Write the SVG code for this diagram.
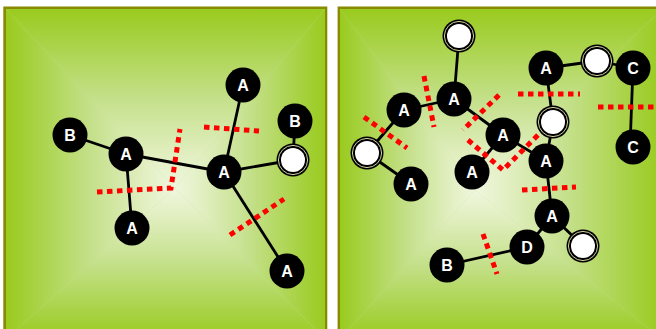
<svg xmlns="http://www.w3.org/2000/svg" width="656" height="329" viewBox="0 0 656 329">
<style>
.n circle.b{fill:#000}
.n text{fill:#fff;font-family:"Liberation Sans",Arial,sans-serif;font-weight:bold;font-size:16px;text-anchor:middle}
.w .o{fill:#000}
.w .r{fill:none;stroke:#e6e6b0;stroke-width:0.9}
.w .i{fill:#fff}
.e line{stroke:#000;stroke-width:2.8}
.cut{fill:none;stroke:#f00;stroke-width:5;stroke-dasharray:5.5 4.5}
</style>
<defs>
<linearGradient id="gT" gradientUnits="objectBoundingBox" x1="0" y1="0" x2="0" y2="1">
<stop offset="0" stop-color="#9acb1e"/><stop offset="0.12" stop-color="#a3d038"/><stop offset="0.5" stop-color="#c4e08a"/><stop offset="0.8" stop-color="#e0eebe"/><stop offset="1" stop-color="#eff7de"/>
</linearGradient>
<linearGradient id="gB" gradientUnits="objectBoundingBox" x1="0" y1="1" x2="0" y2="0">
<stop offset="0" stop-color="#9acb1e"/><stop offset="0.12" stop-color="#a3d038"/><stop offset="0.5" stop-color="#c4e08a"/><stop offset="0.8" stop-color="#e0eebe"/><stop offset="1" stop-color="#eff7de"/>
</linearGradient>
<linearGradient id="gL" gradientUnits="objectBoundingBox" x1="0" y1="0" x2="1" y2="0">
<stop offset="0" stop-color="#9acb1e"/><stop offset="0.12" stop-color="#a3d038"/><stop offset="0.5" stop-color="#c4e08a"/><stop offset="0.8" stop-color="#e0eebe"/><stop offset="1" stop-color="#eff7de"/>
</linearGradient>
<linearGradient id="gR" gradientUnits="objectBoundingBox" x1="1" y1="0" x2="0" y2="0">
<stop offset="0" stop-color="#9acb1e"/><stop offset="0.12" stop-color="#a3d038"/><stop offset="0.5" stop-color="#c4e08a"/><stop offset="0.8" stop-color="#e0eebe"/><stop offset="1" stop-color="#eff7de"/>
</linearGradient>
</defs>

<g id="panel-left">
<rect x="3.3" y="6.5" width="324" height="330" fill="#888a00"/>
<rect x="6" y="9" width="319" height="330" fill="#c4e08a"/>
<polygon points="6,9 325,9 175,188" fill="url(#gT)"/>
<polygon points="6,339 325,339 175,188" fill="url(#gB)"/>
<polygon points="6,9 6,339 175,188" fill="url(#gL)"/>
<polygon points="325,9 325,339 175,188" fill="url(#gR)"/>
</g>
<g id="panel-right">
<rect x="337.6" y="6.5" width="330" height="330" fill="#888a00"/>
<rect x="340" y="9" width="322" height="330" fill="#c4e08a"/>
<polygon points="340,9 662,9 475,190" fill="url(#gT)"/>
<polygon points="340,339 662,339 475,190" fill="url(#gB)"/>
<polygon points="340,9 340,339 475,190" fill="url(#gL)"/>
<polygon points="662,9 662,339 475,190" fill="url(#gR)"/>
</g>

<g id="connectors" class="e">
<line x1="70" y1="135" x2="126" y2="154"/>
<line x1="126" y1="154" x2="132" y2="228"/>
<line x1="126" y1="154" x2="224" y2="172"/>
<line x1="224" y1="172" x2="243" y2="85"/>
<line x1="224" y1="172" x2="293" y2="160"/>
<line x1="224" y1="172" x2="287" y2="271"/>
<line x1="295" y1="121" x2="293" y2="160"/>
<line x1="459" y1="36" x2="454" y2="99"/>
<line x1="454" y1="99" x2="404" y2="110"/>
<line x1="404" y1="110" x2="367" y2="153"/>
<line x1="367" y1="153" x2="411" y2="184"/>
<line x1="454" y1="99" x2="503" y2="135"/>
<line x1="503" y1="135" x2="472" y2="172"/>
<line x1="503" y1="135" x2="546" y2="161"/>
<line x1="546" y1="68" x2="597" y2="61"/>
<line x1="597" y1="61" x2="633" y2="68"/>
<line x1="633" y1="68" x2="630" y2="147"/>
<line x1="546" y1="68" x2="553" y2="122"/>
<line x1="553" y1="122" x2="546" y2="161"/>
<line x1="546" y1="161" x2="552" y2="216"/>
<line x1="552" y1="216" x2="583" y2="246"/>
<line x1="552" y1="216" x2="527" y2="247"/>
<line x1="527" y1="247" x2="447" y2="265"/>
</g>

<g id="cuts">
<polyline class="cut" points="97,192 171,188 180,129"/>
<line class="cut" x1="204" y1="127" x2="259" y2="131"/>
<line class="cut" x1="230" y1="235" x2="284" y2="199"/>
<line class="cut" x1="424" y1="76" x2="434" y2="127"/>
<line class="cut" x1="364" y1="117" x2="407" y2="148"/>
<line class="cut" x1="499" y1="95" x2="463" y2="130"/>
<polyline class="cut" points="468,140 503,170 539,134"/>
<line class="cut" x1="518" y1="94" x2="580" y2="94"/>
<line class="cut" x1="598" y1="107" x2="656" y2="107"/>
<line class="cut" x1="522" y1="190" x2="576" y2="187"/>
<line class="cut" x1="483" y1="234" x2="497" y2="274"/>
</g>

<g id="nL-B1" class="n"><circle class="b" cx="70" cy="135" r="17.5"/><text x="70" y="140.8">B</text></g>
<g id="nL-A1" class="n"><circle class="b" cx="126" cy="154" r="17.5"/><text x="126" y="159.8">A</text></g>
<g id="nL-A2" class="n"><circle class="b" cx="132" cy="228" r="17.5"/><text x="132" y="233.8">A</text></g>
<g id="nL-A3" class="n"><circle class="b" cx="224" cy="172" r="17.5"/><text x="224" y="177.8">A</text></g>
<g id="nL-A4" class="n"><circle class="b" cx="243" cy="85" r="17.5"/><text x="243" y="90.8">A</text></g>
<g id="nL-B2" class="n"><circle class="b" cx="295" cy="121" r="17.5"/><text x="295" y="126.8">B</text></g>
<g id="nL-W1" class="w"><circle class="o" cx="293" cy="160" r="16.5"/><circle class="r" cx="293" cy="160" r="14.6"/><circle class="i" cx="293" cy="160" r="12"/></g>
<g id="nL-A5" class="n"><circle class="b" cx="287" cy="271" r="17.5"/><text x="287" y="276.8">A</text></g>

<g id="nR-W1" class="w"><circle class="o" cx="459" cy="36" r="16.5"/><circle class="r" cx="459" cy="36" r="14.6"/><circle class="i" cx="459" cy="36" r="12"/></g>
<g id="nR-A1" class="n"><circle class="b" cx="454" cy="99" r="17.5"/><text x="454" y="104.8">A</text></g>
<g id="nR-A2" class="n"><circle class="b" cx="404" cy="110" r="17.5"/><text x="404" y="115.8">A</text></g>
<g id="nR-W2" class="w"><circle class="o" cx="367" cy="153" r="16.5"/><circle class="r" cx="367" cy="153" r="14.6"/><circle class="i" cx="367" cy="153" r="12"/></g>
<g id="nR-A3" class="n"><circle class="b" cx="411" cy="184" r="17.5"/><text x="411" y="189.8">A</text></g>
<g id="nR-A4" class="n"><circle class="b" cx="503" cy="135" r="17.5"/><text x="503" y="140.8">A</text></g>
<g id="nR-A5" class="n"><circle class="b" cx="472" cy="172" r="17.5"/><text x="472" y="177.8">A</text></g>
<g id="nR-A6" class="n"><circle class="b" cx="546" cy="68" r="17.5"/><text x="546" y="73.8">A</text></g>
<g id="nR-W3" class="w"><circle class="o" cx="597" cy="61" r="16.5"/><circle class="r" cx="597" cy="61" r="14.6"/><circle class="i" cx="597" cy="61" r="12"/></g>
<g id="nR-C1" class="n"><circle class="b" cx="633" cy="68" r="17.5"/><text x="633" y="73.8">C</text></g>
<g id="nR-C2" class="n"><circle class="b" cx="633" cy="147" r="17.5"/><text x="633" y="152.8">C</text></g>
<g id="nR-W4" class="w"><circle class="o" cx="553" cy="122" r="16.5"/><circle class="r" cx="553" cy="122" r="14.6"/><circle class="i" cx="553" cy="122" r="12"/></g>
<g id="nR-A7" class="n"><circle class="b" cx="546" cy="161" r="17.5"/><text x="546" y="166.8">A</text></g>
<g id="nR-A8" class="n"><circle class="b" cx="552" cy="216" r="17.5"/><text x="552" y="221.8">A</text></g>
<g id="nR-W5" class="w"><circle class="o" cx="583" cy="246" r="16.5"/><circle class="r" cx="583" cy="246" r="14.6"/><circle class="i" cx="583" cy="246" r="12"/></g>
<g id="nR-D" class="n"><circle class="b" cx="527" cy="247" r="17.5"/><text x="527" y="252.8">D</text></g>
<g id="nR-B" class="n"><circle class="b" cx="447" cy="265" r="17.5"/><text x="447" y="270.8">B</text></g>
</svg>
